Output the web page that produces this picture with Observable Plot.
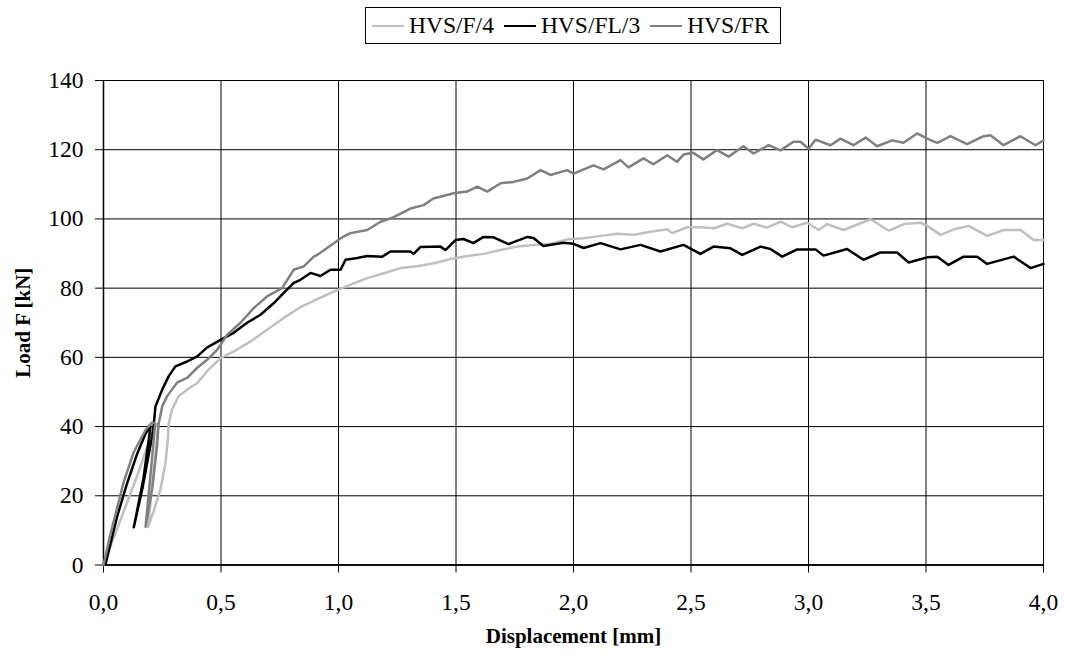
<!DOCTYPE html>
<html>
<head>
<meta charset="utf-8">
<script src="https://cdn.jsdelivr.net/npm/d3@7"></script>
<script src="https://cdn.jsdelivr.net/npm/@observablehq/plot@0.6"></script>
<style>
  html, body { margin: 0; padding: 0; background: #fff; overflow: hidden; }
  body { font-family: "Liberation Serif", "Times New Roman", serif; color: #000; }
  #legend { position: relative; width: 1066px; height: 50px; }
  #lbox { position: absolute; left: 365px; top: 7px; width: 416px; height: 37px; border: 1px solid #000;
          box-sizing: border-box; display: flex; align-items: center; padding-left: 6px;
          font-size: 23.5px; white-space: nowrap; }
  .item { display: flex; align-items: center; margin-right: 10px; }
  .sw { width: 32px; height: 0; border-top: 2.5px solid; margin-right: 5px; }
  #chart svg { display: block; }
</style>
</head>
<body>
<div id="legend"><div id="lbox"></div></div>
<div id="chart"></div>
<script>
// ---- data (displacement [mm], load [kN]) ----
const seriesNames = ["HVS/F/4", "HVS/FL/3", "HVS/FR"];
const seriesColors = ["#c0c0c0", "#000000", "#808080"];
const xTicks = [0, 0.5, 1, 1.5, 2, 2.5, 3, 3.5, 4];
const yTicks = [0, 20, 40, 60, 80, 100, 120, 140];
const xTitle = "Displacement [mm]";
const yTitle = "Load F [kN]";

const hvsF4 = [
  [0,0],[0.05,9],[0.1,18],[0.15,27],[0.19,35],[0.22,40],[0.234,41],
  [0.21,25],[0.19,11],
  [0.213,15.5],[0.243,22],[0.264,29.7],[0.274,36.3],[0.277,40.6],[0.292,45],[0.32,48.8],
  [0.356,50.7],[0.399,52.6],[0.441,56],[0.498,59.8],[0.555,61.7],[0.626,64.6],[0.696,68],
  [0.767,71.4],[0.838,74.5],[0.909,76.8],[0.98,79],[1.051,81],[1.122,82.9],[1.193,84.3],
  [1.264,85.8],[1.335,86.3],[1.406,87.2],[1.477,88.4],[1.548,89.3],[1.618,89.9],[1.689,91],
  [1.76,92],[1.831,92.5],[1.902,92.8],[1.973,94.1],[2.044,94.4],[2.115,95.1],[2.186,95.7],
  [2.257,95.4],[2.328,96.3],[2.399,97],[2.42,95.9],[2.484,97.6],[2.54,97.6],[2.597,97.3],
  [2.654,98.6],[2.718,97.3],[2.767,98.6],[2.824,97.5],[2.881,99.2],[2.93,97.6],[2.994,98.9],
  [3.044,96.8],[3.079,98.5],[3.15,96.8],[3.264,99.9],[3.342,96.6],[3.406,98.5],[3.477,98.9],
  [3.505,98],[3.562,95.4],[3.618,97],[3.682,98],[3.76,95.1],[3.831,96.8],[3.902,96.8],
  [3.959,93.9],[4.0,93.9]
];

const hvsFL3 = [
  [0,0],[0.009,0.4],[0.058,14],[0.1,23.5],[0.143,32.1],[0.179,38],[0.2,40],
  [0.17,25],[0.129,10.9],
  [0.165,21.9],[0.207,37.2],[0.213,40],[0.221,45.8],[0.25,50.7],[0.277,54.5],[0.306,57.4],
  [0.356,58.8],[0.399,60.3],[0.44,62.8],[0.5,65.1],[0.554,67.1],[0.611,70],[0.668,72.3],
  [0.725,75.7],[0.767,78.6],[0.81,81.5],[0.838,82.4],[0.881,84.4],[0.923,83.5],[0.966,85.3],
  [1.009,85.3],[1.03,88.2],[1.08,88.7],[1.122,89.3],[1.186,89.1],[1.221,90.6],[1.306,90.6],
  [1.32,89.9],[1.349,91.9],[1.434,92],[1.455,91],[1.498,93.9],[1.532,94.2],[1.574,93],
  [1.617,94.8],[1.66,94.7],[1.723,92.7],[1.804,94.8],[1.83,94.5],[1.872,92.2],[1.957,93.1],
  [2.0,92.8],[2.043,91.6],[2.115,93],[2.2,91.2],[2.285,92.5],[2.37,90.6],[2.468,92.5],
  [2.54,89.9],[2.596,92],[2.668,91.5],[2.718,89.6],[2.796,92],[2.838,91.3],[2.888,89.1],
  [2.952,91.2],[3.03,91.2],[3.064,89.4],[3.164,91.3],[3.234,88.2],[3.306,90.3],[3.377,90.3],
  [3.426,87.4],[3.505,88.9],[3.548,89.1],[3.596,86.7],[3.66,89.1],[3.718,89.1],[3.76,87],
  [3.873,89.1],[3.945,85.8],[4.0,87]
];

const hvsFR = [
  [0,0],[0.03,9],[0.086,24],[0.128,32.5],[0.179,39],[0.207,41.2],[0.22,41],
  [0.2,26],[0.179,11],
  [0.207,21.9],[0.228,34.4],[0.234,40.6],[0.25,45.9],[0.271,48.8],[0.313,52.7],[0.356,54.1],
  [0.399,57],[0.441,59.3],[0.484,62.2],[0.526,66.5],[0.583,70],[0.64,74.3],[0.696,77.6],
  [0.76,80],[0.809,85.3],[0.852,86.3],[0.895,89.1],[0.909,89.6],[0.98,93],[1.021,94.9],
  [1.051,95.9],[1.122,96.8],[1.179,99.2],[1.235,100.5],[1.306,103],[1.362,104],[1.404,105.9],
  [1.49,107.4],[1.547,107.9],[1.59,109.3],[1.633,107.9],[1.69,110.3],[1.745,110.7],[1.803,111.7],
  [1.86,114.1],[1.902,112.7],[1.973,114.1],[2.0,113.1],[2.085,115.5],[2.128,114.3],[2.2,117],
  [2.234,114.9],[2.298,117.5],[2.34,115.8],[2.399,118.4],[2.44,116.5],[2.468,118.6],[2.51,119.1],
  [2.553,117.2],[2.611,119.9],[2.66,118],[2.723,121],[2.766,118.9],[2.83,121.3],[2.881,119.8],
  [2.936,122.3],[2.966,122.3],[3.0,120.3],[3.03,122.9],[3.094,121.3],[3.136,123.2],[3.191,121.3],
  [3.243,123.5],[3.292,121],[3.356,122.7],[3.404,122],[3.462,124.7],[3.505,123.2],[3.548,122],
  [3.604,123.9],[3.675,121.6],[3.745,123.9],[3.774,124.2],[3.83,121.3],[3.902,123.9],[3.966,121.3],
  [4.0,122.7]
];

const seriesData = [hvsF4, hvsFL3, hvsFR];

// ---- legend ----
const lbox = document.getElementById("lbox");
seriesNames.forEach((name, i) => {
  const item = document.createElement("div");
  item.className = "item";
  const sw = document.createElement("span");
  sw.className = "sw";
  sw.style.borderTopColor = seriesColors[i];
  const t = document.createElement("span");
  t.textContent = name;
  item.appendChild(sw); item.appendChild(t);
  lbox.appendChild(item);
});

// ---- chart ----
const fmt = d => d.toFixed(1).replace(".", ",");
const lineMarks = seriesData.map((s, i) =>
  Plot.line(s, {x: d => d[0], y: d => d[1], stroke: seriesColors[i], strokeWidth: 2.5,
                strokeLinejoin: "round", strokeLinecap: "round"}));

const chart = Plot.plot({
  width: 1066,
  height: 607,
  marginTop: 30,
  marginLeft: 103,
  marginRight: 23,
  marginBottom: 92.5,
  style: {fontFamily: "Liberation Serif, Times New Roman, serif", fontSize: "23.5px", color: "#000", background: "#fff", overflow: "visible"},
  x: {domain: [0, 4]},
  y: {domain: [0, 140]},
  marks: [
    Plot.gridX(xTicks, {stroke: "#000", strokeOpacity: 1, strokeWidth: 1}),
    Plot.gridY(yTicks, {stroke: "#000", strokeOpacity: 1, strokeWidth: 1}),
    Plot.frame({stroke: "#000", strokeWidth: 1}),
    Plot.ruleX([0], {stroke: "#000", strokeWidth: 1.5}),
    Plot.ruleY([0], {stroke: "#000", strokeWidth: 1.5}),
    Plot.axisX(xTicks, {tickSize: 8, tickPadding: 20, tickFormat: fmt, label: null, fontSize: 23.5}),
    Plot.axisY(yTicks, {tickSize: 8, tickPadding: 12, label: null, fontSize: 23.5}),
    ...lineMarks,
    Plot.text([xTitle], {frameAnchor: "bottom", dy: 71, lineAnchor: "middle", textAnchor: "middle", fontWeight: "bold", fontSize: 21}),
    Plot.text([yTitle], {frameAnchor: "left", dx: -80, rotate: -90, lineAnchor: "middle", textAnchor: "middle", fontWeight: "bold", fontSize: 21})
  ]
});
document.getElementById("chart").appendChild(chart);
</script>
</body>
</html>
